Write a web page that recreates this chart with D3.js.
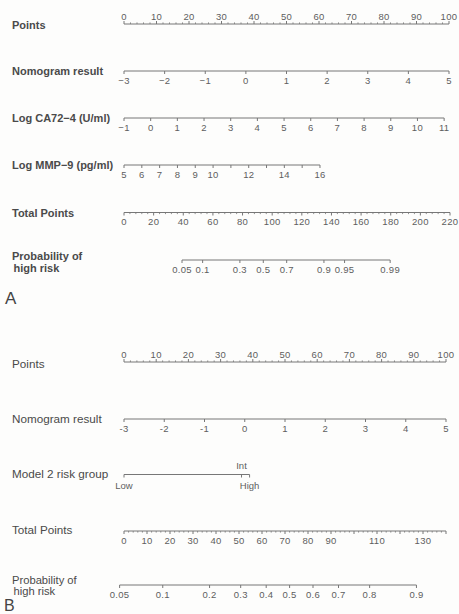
<!DOCTYPE html>
<html>
<head>
<meta charset="utf-8">
<script src="https://cdn.jsdelivr.net/npm/d3@7/dist/d3.min.js"></script>
<style>
  html, body { margin: 0; padding: 0; background: #fdfdfc; }
  svg { display: block; font-family: "Liberation Sans", Arial, sans-serif; }
</style>
</head>
<body>
<svg id="chart" width="459" height="614"></svg>
<script>
// ---------- Panel A: nomogram with CA72-4 and MMP-9 ----------
const pointsLabelsA = d3.range(0, 101, 10);
const nomoResultA = [-3, -2, -1, 0, 1, 2, 3, 4, 5];
const ca724Values = [-1, 0, 1, 2, 3, 4, 5, 6, 7, 8, 9, 10, 11];
const ca724MaxPoints = 98.5;          // points at Log CA72-4 = 11
const mmp9Values = [5, 6, 7, 8, 9, 10, 11, 12, 13, 14, 15, 16];
const mmp9Labels = [5, 6, 7, 8, 9, 10, 12, 14, 16];
const mmp9MaxPoints = 60.3;           // points at Log MMP-9 = 16
const totalLabelsA = d3.range(0, 221, 20);
const probLabelsA = [0.05, 0.1, 0.3, 0.5, 0.7, 0.9, 0.95, 0.99];
const probModelA = { mid: 94, perLogit: 18.63 };   // total points at p = 0.5, points per logit

// ---------- Panel B: nomogram with model 2 risk group ----------
const pointsLabelsB = d3.range(0, 101, 10);
const nomoResultB = [-3, -2, -1, 0, 1, 2, 3, 4, 5];
const riskGroups = ["Low", "Int", "High"];
const riskPoints = [0, 36.5, 39];
const totalLabelsB = [0, 10, 20, 30, 40, 50, 60, 70, 80, 90, 110, 130];
const totalMaxB = 140;
const probLabelsB = [0.05, 0.1, 0.2, 0.3, 0.4, 0.5, 0.6, 0.7, 0.8, 0.9];
const probModelB = { mid: 72, perLogit: 25.1 };

const svg = d3.select("#chart");
const lineColor = "#777";
const tickTextColor = "#5e5e5e";
const titleColor = "#4a4a4a";
const logit = p => Math.log(p / (1 - p));

// One nomogram scale: horizontal line, ticks and labels
function drawRow(opt) {
  const g = svg.append("g");
  const y = opt.y;
  const xs = opt.values.map(opt.x);
  const dir = opt.above ? -1 : 1;
  g.append("line")
    .attr("x1", d3.min(xs)).attr("x2", d3.max(xs))
    .attr("y1", y).attr("y2", y)
    .attr("stroke", lineColor).attr("stroke-width", 1);
  (opt.minor || []).forEach(v => {
    g.append("line")
      .attr("x1", opt.x(v)).attr("x2", opt.x(v))
      .attr("y1", y).attr("y2", y + dir * 1.6)
      .attr("stroke", lineColor).attr("stroke-width", 0.8);
  });
  opt.values.forEach(v => {
    g.append("line")
      .attr("x1", opt.x(v)).attr("x2", opt.x(v))
      .attr("y1", y).attr("y2", y + dir * 3)
      .attr("stroke", lineColor).attr("stroke-width", 1);
  });
  (opt.labels || opt.values).forEach(v => {
    g.append("text")
      .attr("x", opt.x(v))
      .attr("y", opt.above ? y - 4.5 : y + 12.5)
      .attr("text-anchor", "middle")
      .attr("font-size", opt.fontSize || 9.5)
      .attr("fill", tickTextColor)
      .attr("letter-spacing", 0.3)
      .text(opt.fmt ? opt.fmt(v) : String(v));
  });
  return g;
}

function title(lines, y, bold, size, gap) {
  lines.forEach((s, i) => {
    svg.append("text")
      .attr("x", i ? 13.5 : 12).attr("y", y + i * (gap || 11))
      .attr("font-size", size)
      .attr("font-weight", bold ? "bold" : "normal")
      .attr("fill", titleColor)
      .text(s);
  });
}

const minusFmt = v => String(v).replace("-", "\u2212");

// ================= Panel A =================
const ptsA = d3.scaleLinear().domain([0, 100]).range([124, 449]);
const totA = d3.scaleLinear().domain([0, 220]).range([124, 450]);

title(["Points"], 29, true, 11);
drawRow({ y: 24, above: true, values: pointsLabelsA, x: ptsA,
          minor: d3.range(0, 101, 2).filter(v => v % 10) });

title(["Nomogram result"], 75, true, 11);
const nrA = d3.scaleLinear().domain([-3, 5]).range([0, 100]);
drawRow({ y: 71, values: nomoResultA, x: v => ptsA(nrA(v)), fmt: minusFmt });

title(["Log CA72\u22124 (U/ml)"], 122, true, 11);
const caA = d3.scaleLinear().domain([-1, 11]).range([0, ca724MaxPoints]);
drawRow({ y: 118, values: ca724Values, x: v => ptsA(caA(v)), fmt: minusFmt });

title(["Log MMP\u22129 (pg/ml)"], 169, true, 11);
const mmA = d3.scaleLinear().domain([5, 16]).range([0, mmp9MaxPoints]);
drawRow({ y: 165, values: mmp9Values, labels: mmp9Labels, x: v => ptsA(mmA(v)) });

title(["Total Points"], 217, true, 11);
drawRow({ y: 212.5, values: totalLabelsA, x: totA,
          minor: d3.range(0, 221, 4).filter(v => v % 20) });

title(["Probability of", "high risk"], 259.5, true, 11, 12);
drawRow({ y: 260, values: probLabelsA,
          x: p => totA(probModelA.mid + probModelA.perLogit * logit(p)) });

svg.append("text").attr("x", 5).attr("y", 304)
  .attr("font-size", 17).attr("fill", "#444").text("A");

// ================= Panel B =================
const ptsB = d3.scaleLinear().domain([0, 100]).range([124, 446]);
const totB = d3.scaleLinear().domain([0, totalMaxB]).range([124, 446]);

title(["Points"], 368, false, 11.7);
drawRow({ y: 362, above: true, values: pointsLabelsB, x: ptsB,
          minor: d3.range(0, 101, 2).filter(v => v % 10) });

title(["Nomogram result"], 423, false, 11.7);
const nrB = d3.scaleLinear().domain([-3, 5]).range([0, 100]);
drawRow({ y: 419, values: nomoResultB, x: v => ptsB(nrB(v)) });

// Risk group: categorical scale, one label staggered above
title(["Model 2 risk group"], 478, false, 11.7);
{
  const y = 474.5;
  const xs = riskPoints.map(ptsB);
  const g = svg.append("g");
  g.append("line").attr("x1", d3.min(xs)).attr("x2", d3.max(xs))
    .attr("y1", y).attr("y2", y).attr("stroke", lineColor);
  riskGroups.forEach((name, i) => {
    g.append("line").attr("x1", xs[i]).attr("x2", xs[i])
      .attr("y1", y).attr("y2", y + 3).attr("stroke", lineColor);
    const up = name === "Int";
    g.append("text")
      .attr("x", xs[i])
      .attr("y", up ? y - 6 : y + 14)
      .attr("text-anchor", "middle")
      .attr("font-size", 9.5).attr("fill", tickTextColor)
      .text(name);
  });
}

title(["Total Points"], 534, false, 11.7);
drawRow({ y: 531, values: d3.range(0, totalMaxB + 1, 10), labels: totalLabelsB, x: totB,
          minor: d3.range(0, totalMaxB + 1, 2).filter(v => v % 10) });

title(["Probability of", "high risk"], 583.5, false, 11.2, 11.5);
drawRow({ y: 585, values: probLabelsB,
          x: p => totB(probModelB.mid + probModelB.perLogit * logit(p)) });

svg.append("text").attr("x", 4).attr("y", 610.5)
  .attr("font-size", 16).attr("fill", "#444").text("B");
</script>
</body>
</html>
